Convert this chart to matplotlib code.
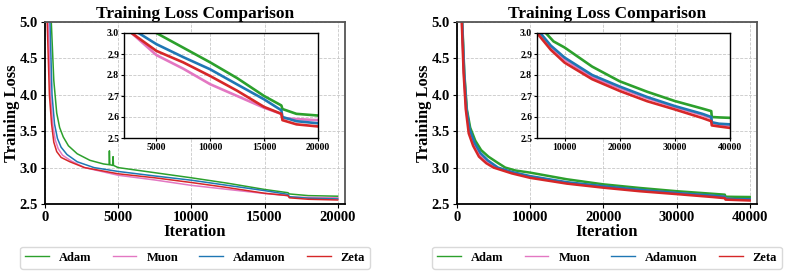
import matplotlib
matplotlib.use('Agg')
import matplotlib.pyplot as plt

plt.rcParams['font.family'] = ['Liberation Serif', 'DejaVu Serif']
plt.rcParams['font.weight'] = 'bold'


# LEFT RUN (20000 ITERATIONS)
l_adam_x = [0, 280, 430, 600, 800, 1000, 1250, 1600, 2200, 3070, 4000, 4380, 4400, 4430,
            4620, 4650, 4680, 5000, 7500, 10000, 12500, 15000, 16600, 16700, 18000, 20000]
l_adam_y = [8.0, 6.0, 5.0, 4.2, 3.75, 3.55, 3.42, 3.3, 3.19, 3.1, 3.05, 3.04, 3.23, 3.04,
            3.03, 3.15, 3.03, 3.0, 2.93, 2.86, 2.785, 2.7, 2.655, 2.638, 2.615, 2.607]

l_muon_x = [0, 150, 230, 380, 520, 700, 900, 1200, 1800, 2700, 5000, 7500, 10000, 12500,
            15000, 16600, 16700, 18000, 20000]
l_muon_y = [8.0, 6.0, 5.0, 4.0, 3.6, 3.38, 3.26, 3.17, 3.09, 3.0, 2.895, 2.83, 2.756, 2.7,
            2.644, 2.615, 2.595, 2.59, 2.585]

l_adamuon_x = [0, 200, 340, 480, 650, 850, 1100, 1500, 2200, 3350, 5000, 7500, 10000, 12500,
               15000, 16600, 16700, 18000, 20000]
l_adamuon_y = [8.0, 6.0, 5.0, 4.0, 3.6, 3.4, 3.28, 3.18, 3.08, 3.0, 2.947, 2.885, 2.827, 2.755,
               2.684, 2.632, 2.6, 2.58, 2.57]

l_zeta_x = [0, 100, 150, 300, 450, 600, 800, 1100, 1700, 2700, 5000, 7500, 10000, 12500,
            15000, 16600, 16700, 18000, 20000]
l_zeta_y = [8.0, 6.0, 5.0, 4.0, 3.6, 3.35, 3.22, 3.14, 3.08, 3.0, 2.915, 2.86, 2.795, 2.725,
            2.648, 2.615, 2.585, 2.565, 2.555]

# RIGHT RUN (40000 ITERATIONS)
r_adam_x = [0, 450, 720, 1000, 1350, 1800, 2500, 3300, 4300, 5500, 6600, 8000, 10000, 15000,
            20000, 25000, 30000, 35000, 36600, 36700, 38000, 40000]
r_adam_y = [8.0, 6.0, 5.0, 4.3, 3.8, 3.55, 3.37, 3.24, 3.15, 3.07, 3.0, 2.96, 2.931, 2.84,
            2.77, 2.72, 2.676, 2.64, 2.628, 2.6, 2.598, 2.596]

r_muon_x = [0, 420, 680, 950, 1250, 1700, 2300, 3100, 4100, 5400, 7500, 10000, 15000, 20000,
            25000, 30000, 35000, 36600, 36700, 38000, 40000]
r_muon_y = [8.0, 6.0, 5.0, 4.3, 3.8, 3.5, 3.32, 3.18, 3.09, 3.0, 2.935, 2.875, 2.79, 2.738,
            2.69, 2.648, 2.61, 2.595, 2.572, 2.565, 2.56]

r_adamuon_x = [0, 430, 700, 980, 1300, 1750, 2400, 3200, 4200, 5600, 7500, 10000, 15000, 20000,
               25000, 30000, 35000, 36600, 36700, 38000, 40000]
r_adamuon_y = [8.0, 6.0, 5.0, 4.3, 3.8, 3.52, 3.34, 3.2, 3.1, 3.0, 2.94, 2.883, 2.8, 2.745,
               2.695, 2.652, 2.615, 2.6, 2.575, 2.568, 2.565]

r_zeta_x = [0, 400, 650, 900, 1200, 1600, 2200, 3000, 4000, 5000, 7500, 10000, 15000, 20000,
            25000, 30000, 35000, 36600, 36700, 38000, 40000]
r_zeta_y = [8.0, 6.0, 5.0, 4.3, 3.8, 3.47, 3.3, 3.15, 3.06, 3.0, 2.92, 2.859, 2.78, 2.724,
            2.675, 2.636, 2.595, 2.58, 2.56, 2.555, 2.548]

names = ['Adam', 'Muon', 'Adamuon', 'Zeta']
colors = ['#2ca02c', '#e377c2', '#1f77b4', '#d62728']

left_x_ticks = [0, 5000, 10000, 15000, 20000]
left_inset_ticks = [5000, 10000, 15000, 20000]
right_x_ticks = [0, 10000, 20000, 30000, 40000]
right_inset_ticks = [10000, 20000, 30000, 40000]
y_ticks = [2.5, 3.0, 3.5, 4.0, 4.5, 5.0]
inset_y_ticks = [2.5, 2.6, 2.7, 2.8, 2.9, 3.0]


def style_grid(ax):
    ax.grid(True, linestyle='--', color='#c8c8c8', linewidth=0.6)
    ax.set_axisbelow(True)


def draw_panel(main_rect, inset_rect, series, xlim, xticks, inset_xlim, inset_ticks, lw_main):
    ax = fig.add_axes(main_rect)
    for (xs, ys), name, c in zip(series, names, colors):
        ax.plot(xs, ys, color=c, linewidth=lw_main, label=name)
    ax.set_xlim(*xlim)
    ax.set_ylim(2.5, 5.0)
    ax.set_xticks(xticks)
    ax.set_yticks(y_ticks)
    ax.tick_params(labelsize=10.5, length=3, pad=2)
    for lab in ax.get_xticklabels() + ax.get_yticklabels():
        lab.set_fontweight('bold')
    for s in ax.spines.values():
        s.set_color('#555555')
        s.set_linewidth(1.3)
    ax.spines['left'].set_color('black')
    ax.spines['bottom'].set_color('black')
    style_grid(ax)
    ax.set_title('Training Loss Comparison', fontsize=12.5, fontweight='bold', pad=3)
    ax.set_xlabel('Iteration', fontsize=12, fontweight='bold', labelpad=0)
    ax.set_ylabel('Training Loss', fontsize=12, fontweight='bold', labelpad=0)
    leg = ax.legend(loc='upper center', bbox_to_anchor=(0.5, -0.2), ncol=4,
                    prop={'family': 'Liberation Serif', 'weight': 'bold', 'size': 9},
                    handlelength=1.9, handletextpad=0.8, columnspacing=1.7,
                    frameon=True, fancybox=True, borderpad=0.4)
    leg.get_frame().set_edgecolor('#d0d0d0')
    for h in leg.get_lines():
        h.set_linewidth(1.0)

    ins = fig.add_axes(inset_rect)
    ins.set_facecolor('white')
    for (xs, ys), c in zip(series, colors):
        ins.plot(xs, ys, color=c, linewidth=1.9)
    ins.set_xlim(*inset_xlim)
    ins.set_ylim(2.5, 3.0)
    ins.set_xticks(inset_ticks)
    ins.set_yticks(inset_y_ticks)
    ins.tick_params(labelsize=7, length=2, pad=1.5)
    for lab in ins.get_xticklabels() + ins.get_yticklabels():
        lab.set_fontweight('bold')
    for s in ins.spines.values():
        s.set_linewidth(1.0)
    style_grid(ins)
    return ax


fig = plt.figure(figsize=(7.88, 2.74), dpi=100)

left_series = [(l_adam_x, l_adam_y), (l_muon_x, l_muon_y),
               (l_adamuon_x, l_adamuon_y), (l_zeta_x, l_zeta_y)]
right_series = [(r_adam_x, r_adam_y), (r_muon_x, r_muon_y),
                (r_adamuon_x, r_adamuon_y), (r_zeta_x, r_zeta_y)]

draw_panel([45 / 788, 70 / 274, 300 / 788, 182 / 274],
           [124 / 788, 136 / 274, 194 / 788, 105 / 274],
           left_series, (0, 20500), left_x_ticks, (2000, 20000), left_inset_ticks, 1.1)
draw_panel([457 / 788, 70 / 274, 300 / 788, 182 / 274],
           [537 / 788, 136 / 274, 193 / 788, 105 / 274],
           right_series, (0, 41000), right_x_ticks, (5000, 40000), right_inset_ticks, 1.8)

fig.savefig('out.png', dpi=100)
